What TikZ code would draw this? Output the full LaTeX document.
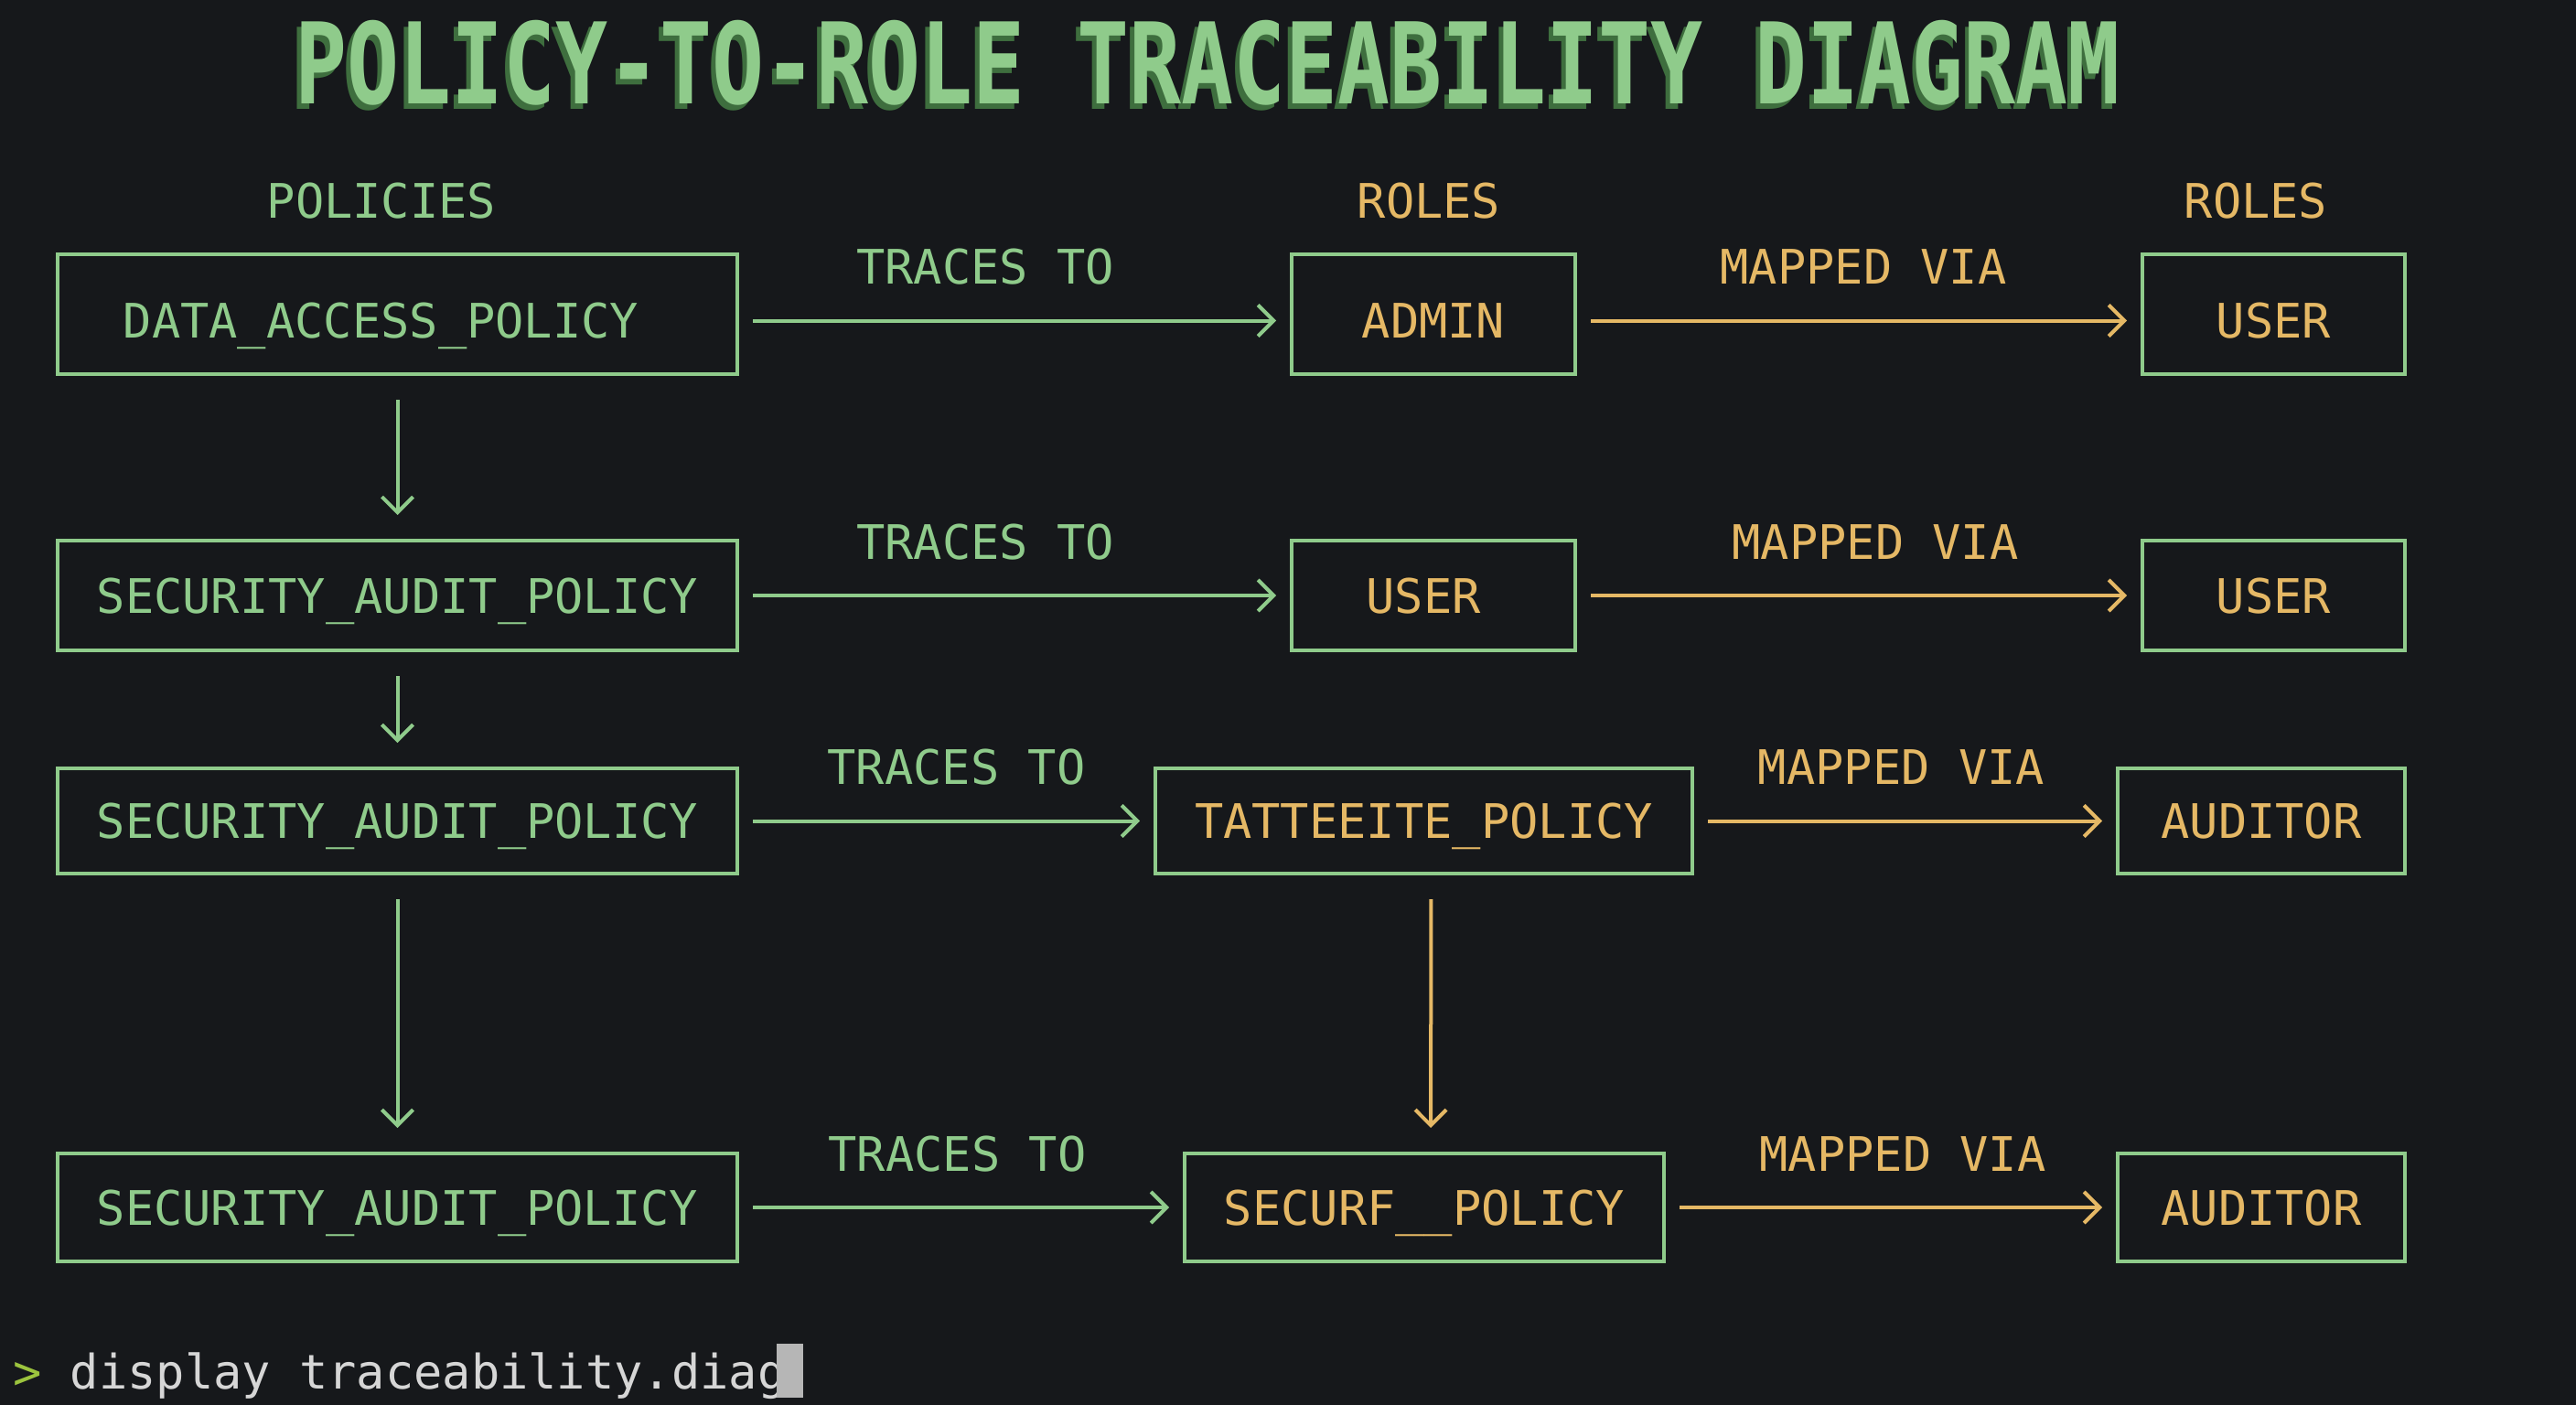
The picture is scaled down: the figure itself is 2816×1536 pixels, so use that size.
\documentclass[tikz,border=0pt]{standalone}
\usepackage{fontspec}
\setmonofont{DejaVu Sans Mono}
\usetikzlibrary{arrows.meta}
\definecolor{bg}{HTML}{16181B}
\definecolor{grn}{HTML}{8FCB8B}
\definecolor{gld}{HTML}{E5B865}
\definecolor{term}{HTML}{D6D6D6}
\definecolor{promptc}{HTML}{9CC43E}
\definecolor{shade2}{HTML}{3E6E3E}
\newcommand{\ttltext}{POLICY-TO-ROLE TRACEABILITY DIAGRAM}
\tikzset{
  lbl/.style={font=\fontsize{52}{52}\selectfont\ttfamily, inner sep=0pt, text height=38pt, text depth=0pt},
  box/.style={lbl, draw=grn, line width=4pt},
  pbox/.style={box, text=grn, minimum width=743pt},
  rbox/.style={box, text=gld},
  rowone/.style={text height=52pt},
  garrow/.style={draw=grn, line width=4pt, -{Straight Barb[length=17pt,width=34pt]}, shorten <=15pt, shorten >=15pt},
  oarrow/.style={garrow, draw=gld},
  vg/.style={garrow, shorten <=26pt, shorten >=26pt},
  vo/.style={vg, draw=gld},
  glbl/.style={lbl, text=grn, yshift=59pt},
  olbl/.style={lbl, text=gld, yshift=59pt},
  title/.style={font=\fontsize{123}{123}\selectfont\ttfamily\bfseries, inner sep=0pt}
}
\begin{document}
\begin{tikzpicture}[x=1pt,y=-1pt]
\fill[bg] (0,0) rectangle (2816,1536);
\useasboundingbox (0,0) rectangle (2816,1536);

% title (shadow and face in one node)
\node[title] (title) at (1320,72) {\scalebox{0.77}[1]{\rlap{\kern-6pt\raisebox{-6pt}{\color{shade2}\ttltext}}\color{grn}\ttltext}};

% headers
\node[lbl, text=grn] (hpol) at (417,219) {POLICIES};
\node[lbl, text=gld] (hrole1) at (1562,219) {ROLES};
\node[lbl, text=gld] (hrole2) at (2466,219) {ROLES};

% row 1
\node[pbox, rowone, minimum height=131pt] (p1) at (434.5,343.5) {DATA\_ACCESS\_POLICY\kern36pt\relax};
\node[rbox, rowone, minimum width=310pt, minimum height=131pt] (r1) at (1567,343.5) {ADMIN};
\node[rbox, rowone, minimum width=287pt, minimum height=131pt] (u1) at (2485.5,343.5) {USER};
% row 2
\node[pbox, minimum height=120pt] (p2) at (434.5,651) {SECURITY\_AUDIT\_POLICY};
\node[rbox, minimum width=310pt, minimum height=120pt] (r2) at (1567,651) {USER\kern22pt\relax};
\node[rbox, minimum width=287pt, minimum height=120pt] (u2) at (2485.5,651) {USER};
% row 3
\node[pbox, minimum height=115pt] (p3) at (434.5,897.5) {SECURITY\_AUDIT\_POLICY};
\node[rbox, minimum width=587pt, minimum height=115pt] (r3) at (1556.5,897.5) {TATTEEITE\_POLICY};
\node[rbox, minimum width=314pt, minimum height=115pt] (u3) at (2472,897.5) {AUDITOR};
% row 4
\node[pbox, minimum height=118pt] (p4) at (434.5,1320) {SECURITY\_AUDIT\_POLICY};
\node[rbox, minimum width=524pt, minimum height=118pt] (r4) at (1557,1320) {SECURF\_\_POLICY};
\node[rbox, minimum width=314pt, minimum height=118pt] (u4) at (2472,1320) {AUDITOR};

% horizontal connectors
\draw[garrow] ([yshift=-7pt]p1.east) -- ([yshift=-7pt]r1.west) node[midway, glbl, xshift=-32pt] {TRACES TO};
\draw[garrow] (p2.east) -- (r2.west) node[midway, glbl, xshift=-32pt] {TRACES TO};
\draw[garrow] (p3.east) -- (r3.west) node[midway, glbl, xshift=11pt] {TRACES TO};
\draw[garrow] (p4.east) -- (r4.west) node[midway, glbl, xshift=-4pt] {TRACES TO};

\draw[oarrow] ([yshift=-7pt]r1.east) -- ([yshift=-7pt]u1.west) node[midway, olbl, xshift=5pt] {MAPPED VIA};
\draw[oarrow] (r2.east) -- (u2.west) node[midway, olbl, xshift=18pt] {MAPPED VIA};
\draw[oarrow] (r3.east) -- (u3.west) node[midway, olbl, xshift=-4pt] {MAPPED VIA};
\draw[oarrow] (r4.east) -- (u4.west) node[midway, olbl, xshift=13pt] {MAPPED VIA};

% vertical connectors
\draw[vg] (p1.south) -- (p2.north);
\draw[vg] (p2.south) -- (p3.north);
\draw[vg] (p3.south) -- (p4.north);
\draw[vo] ([xshift=8pt]r3.south) -- ([xshift=7pt]r4.north);

% prompt
\node[font=\fontsize{52}{52}\selectfont\ttfamily, text=term, inner sep=0pt, anchor=base west] (prompt) at (14,1518) {{\color{promptc}>} display traceability.diag};
\node[fill=term!85!black, inner sep=0pt, minimum width=29pt, minimum height=59pt] (cursor) at (863.5,1498.5) {};
\end{tikzpicture}
\end{document}
